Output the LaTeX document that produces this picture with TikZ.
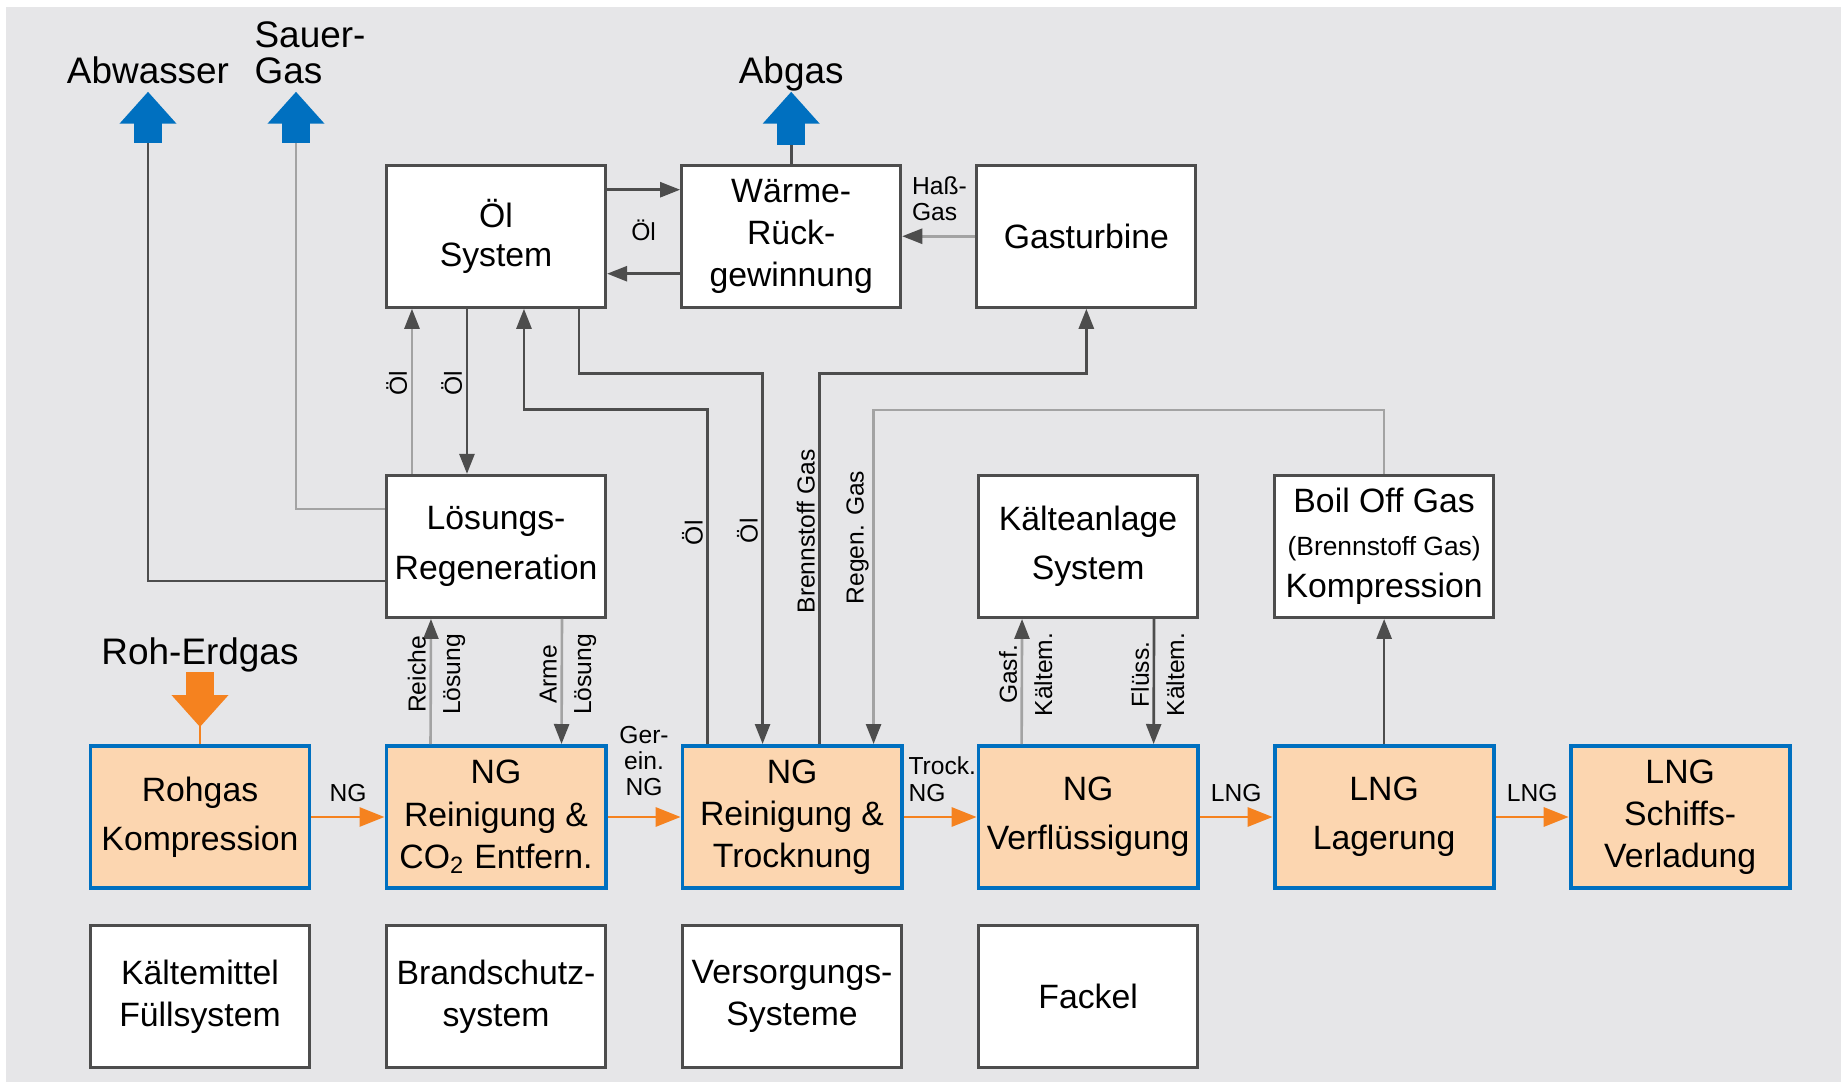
\documentclass[tikz,border=0pt]{standalone}
\usepackage{fontspec}
\setmainfont{Liberation Sans}
\usetikzlibrary{arrows.meta,positioning,calc}
\definecolor{lngbg}{HTML}{E6E6E8}
\definecolor{lngpeach}{HTML}{FCD6B0}
\definecolor{lngblue}{HTML}{0070C0}
\definecolor{lngorange}{HTML}{F5821F}
\definecolor{lngdark}{HTML}{4D4D4D}
\definecolor{lnglight}{HTML}{A3A3A3}
\tikzset{
  plant/.style={draw=lngdark, fill=white, line width=0.85pt, minimum width=2.19cm,
    minimum height=1.42cm, inner sep=1pt, align=center, font=\fontsize{9.6}{12}\selectfont},
  train/.style={plant, draw=lngblue, fill=lngpeach, line width=1.1pt},
  gasline/.style={draw=lngorange, line width=0.85pt},
  gasflow/.style={gasline, -{Triangle[length=0.25cm, width=0.19cm]}},
  line/.style={draw=lngdark, line width=0.75pt},
  linelt/.style={draw=lnglight, line width=0.75pt},
  pipe/.style={line, -{Triangle[length=0.2cm, width=0.15cm]}},
  pipelt/.style={linelt, -{Triangle[length=0.2cm, width=0.15cm, color=lngdark]}},
  wide/.style={line width=0.28cm, -{Triangle[length=0.32cm, width=0.55cm]}},
  outflow/.style={wide, lngblue},
  inflow/.style={wide, lngorange},
  outlbl/.style={font=\fontsize{10.5}{10.5}\selectfont, inner sep=2pt, anchor=south, text depth=0pt},
  lbl/.style={font=\fontsize{7}{7.5}\selectfont, inner sep=1pt},
  vlbl/.style={lbl, rotate=90, anchor=south},
  vlbr/.style={lbl, rotate=90, anchor=north, outer sep=2.5pt},
}
\begin{document}
\begin{tikzpicture}[x=0.01cm, y=-0.01cm]
\useasboundingbox (0,0) rectangle (1841,1082);
\fill[lngbg] (6,7) rectangle (1841,1082);

% gas train
\node[train] (rohgas) at (200,817) {Rohgas\\[2pt]Kompression};
\node[train, right=0.73cm of rohgas] (reinig) {NG\\Reinigung \&\\CO\textsubscript{2} Entfern.};
\node[train, right=0.73cm of reinig] (trockn) {NG\\Reinigung \&\\Trocknung};
\node[train, right=0.73cm of trockn] (verfl) {NG\\[2pt]Verflüssigung};
\node[train, right=0.73cm of verfl] (lager) {LNG\\[2pt]Lagerung};
\node[train, right=0.73cm of lager] (verlad) {LNG\\Schiffs-\\Verladung};

% auxiliary units
\node[plant, below=0.34cm of rohgas] (kaeltem) {Kältemittel\\Füllsystem};
\node[plant, below=0.34cm of reinig] (brand) {Brandschutz-\\system};
\node[plant, below=0.34cm of trockn] (versorg) {Versorgungs-\\Systeme};
\node[plant, below=0.34cm of verfl] (fackel) {Fackel};

\node[plant, above=1.25cm of reinig] (loesung) {Lösungs-\\[2pt]Regeneration};
\node[plant, above=1.25cm of verfl] (kaelte) {Kälteanlage\\[2pt]System};
\node[plant, above=1.25cm of lager] (boil) {Boil Off Gas\\{\fontsize{7.5}{9}\selectfont(Brennstoff Gas)}\\Kompression};

\node[plant, above=1.65cm of loesung] (oel) {Öl\\[-1pt]System};
\node[plant, right=0.73cm of oel] (waerme) {Wärme-\\Rück-\\gewinnung};
\node[plant, right=0.73cm of waerme] (gasturb) {Gasturbine};

% in- and outflows
\node[outlbl] (abgas) at ($(waerme.north)+(0,-72)$) {Abgas};
\coordinate (abwfoot) at (148,143);
\coordinate (sauerfoot) at (296,143);
\node[outlbl] (abw) at (abwfoot |- abgas.south) {Abwasser};
\node[outlbl, align=left, xshift=0.14cm] (sauer) at (sauerfoot |- abgas.south) {Sauer-\\Gas};
\node[outlbl] (roh) at ($(rohgas.north)+(0,-72)$) {Roh-Erdgas};

\draw[line] (waerme.north) -- ++(0,-19) coordinate (abgfoot);
\draw[outflow] (abgfoot) -- (abgas.south);
\draw[outflow] (abwfoot) -- (abw.south);
\draw[outflow] (sauerfoot) -- (sauer.south -| sauerfoot);
\draw[gasline] (roh.south) -- (rohgas.north);
\draw[inflow] (roh.south) -- ($(rohgas.north)+(0,-17)$);

% main flow
\draw[gasflow] (rohgas) -- node[lbl, above=3pt]{NG} (reinig);
\draw[gasflow] (reinig) -- node[lbl, above=4.5pt, align=center]{Ger-\\ein.\\NG} (trockn);
\draw[gasflow] (trockn) -- node[lbl, pos=0, anchor=south west, align=left, yshift=3pt]{Trock.\\NG} (verfl);
\foreach \a/\b in {verfl/lager,lager/verlad}
  \draw[gasflow] (\a) -- node[lbl, above=3pt]{LNG} (\b);

% oil and heat
\draw[pipe] ($(oel.north east)+(0,26)$) -- node[lbl, below=0.25cm]{Öl} ($(waerme.north west)+(0,26)$);
\draw[pipe] ($(waerme.north west)+(0,110)$) -- ($(oel.north east)+(0,110)$);
\draw[pipelt] (gasturb) -- node[lbl, pos=1, anchor=south west, align=left, yshift=3pt, xshift=0.05cm]{Haß-\\Gas} (waerme);

\draw[pipelt] ($(loesung.north west)+(27,0)$) -- node[vlbl, pos=0.55]{Öl} ($(oel.south west)+(27,0)$);
\draw[pipe] ($(oel.south west)+(82,0)$) -- node[vlbl, pos=0.45]{Öl} ($(loesung.north west)+(82,0)$);
\draw[pipe] ($(trockn.north west)+(27,0)$) |- node[vlbl, pos=0.316]{Öl} ($(oel.south west)+(139,101)$) -- ($(oel.south west)+(139,0)$);
\draw[pipe] ($(oel.south west)+(194,0)$) -- ++(0,65) -| node[vlbl, pos=0.712]{Öl} ($(trockn.north west)+(82,0)$);
\draw[pipe] ($(trockn.north west)+(139,0)$) |- node[vlbl, pos=0.287]{Brennstoff Gas} ($(gasturb.south)+(0,65)$) -- (gasturb.south);
\draw[pipelt] (boil.north) -- ++(0,-64) -| node[vlbl, pos=0.691]{Regen. Gas} ($(trockn.north west)+(193,0)$);

% solvent and refrigerant
\draw[pipelt] ($(reinig.north west)+(46,0)$) -- node[vlbl, pos=0.556]{Reiche} node[vlbr, pos=0.556]{Lösung} ($(loesung.south west)+(46,0)$);
\draw[pipelt] ($(loesung.south west)+(177,0)$) -- node[vlbl, pos=0.444]{Arme} node[vlbr, pos=0.444]{Lösung} ($(reinig.north west)+(177,0)$);
\draw[pipelt] ($(verfl.north west)+(45,0)$) -- node[vlbl, pos=0.556]{Gasf.} node[vlbr, pos=0.556]{Kältem.} ($(kaelte.south west)+(45,0)$);
\draw[pipe] ($(kaelte.south west)+(177,0)$) -- node[vlbl, pos=0.444]{Flüss.} node[vlbr, pos=0.444]{Kältem.} ($(verfl.north west)+(177,0)$);
\draw[pipe] (lager) -- (boil);

% outlets of the regeneration
\draw[line] ($(loesung.north west)+(0,107)$) -| (abwfoot);
\draw[linelt] ($(loesung.north west)+(0,35)$) -| (sauerfoot);
\end{tikzpicture}
\end{document}
